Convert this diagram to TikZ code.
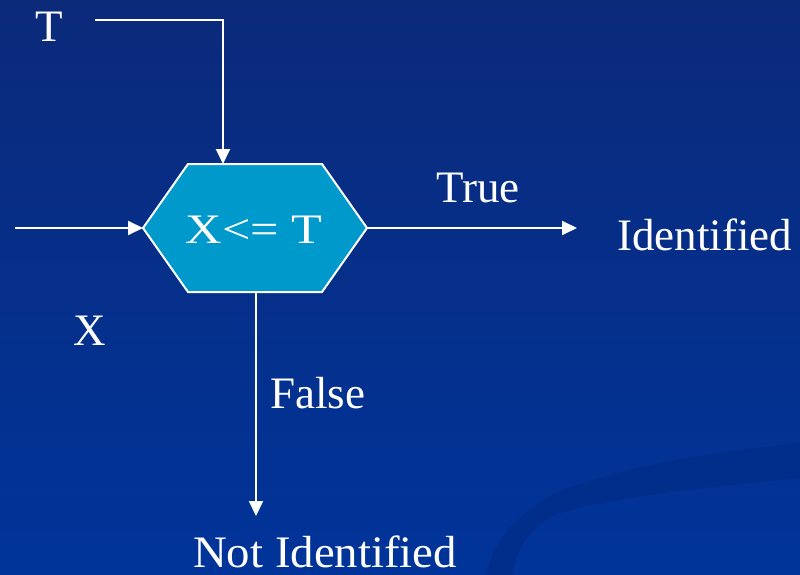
\documentclass[tikz,border=0pt]{standalone}
\usepackage{fontspec}
\setmainfont{Liberation Serif}
\usetikzlibrary{arrows.meta}
\definecolor{bgtop}{RGB}{11,42,122}
\definecolor{bgbot}{RGB}{0,52,154}
\definecolor{swoosh}{RGB}{0,46,138}
\definecolor{hexfill}{RGB}{0,153,204}
\tikzset{
  lbl/.style={text=white, inner sep=0pt, font=\fontsize{45}{50}\selectfont},
  conn/.style={draw=white, line width=2pt, -{Triangle[length=15pt,width=14pt]}},
  hexbox/.style={draw=white, line width=2pt, fill=hexfill, line join=miter}
}
\begin{document}
\begin{tikzpicture}[x=1pt,y=-1pt]
\useasboundingbox (0,0) rectangle (800,575);
\shade[top color=bgtop, bottom color=bgbot] (0,0) rectangle (800,575);
% background swoosh
\fill[swoosh] (487,575) .. controls (492,540) and (520,510) .. (563,490)
  .. controls (640,462) and (720,452) .. (800,443) -- (800,478)
  .. controls (720,486) and (620,495) .. (560,513)
  .. controls (530,525) and (515,550) .. (513,575) -- cycle;
% hexagon
\coordinate (hN) at (223,164);
\coordinate (hW) at (143,228);
\coordinate (hE) at (367,228);
\coordinate (hS) at (256,292);
\draw[hexbox] (188,164) -- (322,164) -- (hE) -- (322,292) -- (188,292) -- (hW) -- cycle;
\node[lbl, anchor=base, font=\fontsize{42}{46}\selectfont] (cond) at (254,243) {\scalebox{1.2}[1]{X<= T}};
% labels
\node[lbl, anchor=base] (tl) at (49,42) {T};
\node[lbl, anchor=base] (xl) at (90,345) {X};
\node[lbl, anchor=base] (truel) at (478,202) {True};
\node[lbl, anchor=base west] (idl) at (617,250) {Identified};
\node[lbl, anchor=base west] (falsel) at (270,408) {False};
\node[lbl, anchor=base west] (nidl) at (193,567) {\scalebox{1.04}[1]{Not Identified}};
% connector endpoints
\coordinate (tstart) at (95,20);
\coordinate (xstart) at (15,228);
\coordinate (trueend) at (577,228);
\coordinate (falseend) at (256,516);
% connectors
\draw[conn] (tstart) -| (hN);
\draw[conn] (xstart) -- (hW);
\draw[conn] (hE) -- (trueend);
\draw[conn] (hS) -- (falseend);
\end{tikzpicture}
\end{document}
